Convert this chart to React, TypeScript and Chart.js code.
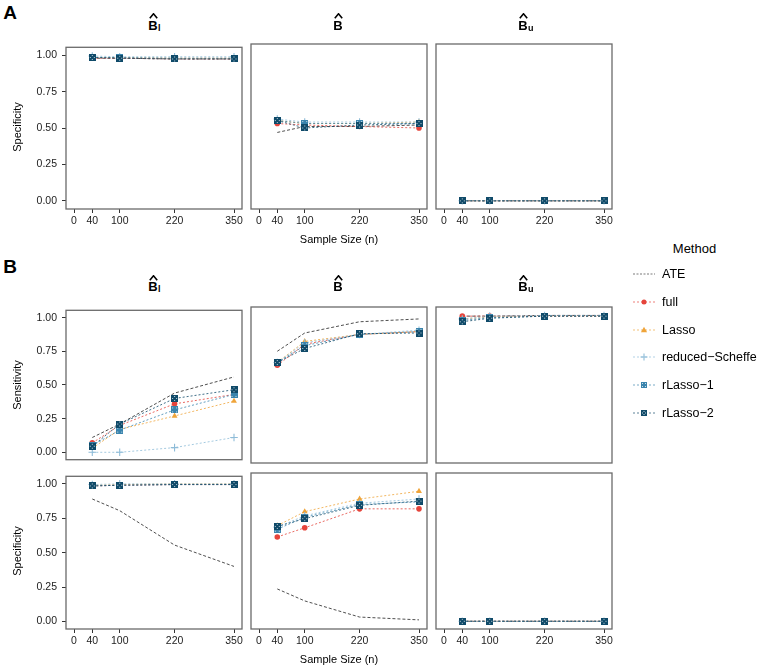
import React, { useEffect, useRef } from 'react';
import { Chart, registerables } from 'chart.js';

Chart.register(...registerables);

// ---------- data ----------
const SAMPLE_SIZES = [40, 100, 220, 350];
const X_TICKS = [0, 40, 100, 220, 350];
const Y_TICKS = [0, 0.25, 0.5, 0.75, 1];
const METHODS = ['ATE', 'full', 'Lasso', 'reduced\u2212Scheffe', 'rLasso\u22121', 'rLasso\u22122'];
const METHOD_COLORS = ['#3b3b3b', '#e5443b', '#efa43a', '#8ebcd8', '#3a84ad', '#0f4a69'];

// rows follow METHODS order: ATE, full, Lasso, reduced-Scheffe, rLasso-1, rLasso-2
const SPEC_A_LOWER = [
  [0.98, 0.98, 0.975, 0.975],
  [0.98, 0.98, 0.975, 0.975],
  [0.985, 0.985, 0.98, 0.98],
  [0.995, 0.99, 0.99, 0.99],
  [0.985, 0.985, 0.98, 0.98],
  [0.985, 0.98, 0.975, 0.975],
];
const SPEC_A_MID = [
  [0.46, 0.5, 0.5, 0.51],
  [0.52, 0.51, 0.5, 0.49],
  [0.54, 0.52, 0.52, 0.53],
  [0.55, 0.53, 0.53, 0.53],
  [0.54, 0.52, 0.52, 0.52],
  [0.54, 0.49, 0.51, 0.52],
];
const SPEC_A_UPPER = [
  [0, 0, 0, 0],
  [0, 0, 0, 0],
  [0, 0, 0, 0],
  [0, 0, 0, 0],
  [0, 0, 0, 0],
  [0, 0, 0, 0],
];
const SENS_B_LOWER = [
  [0.11, 0.21, 0.44, 0.56],
  [0.07, 0.2, 0.36, 0.43],
  [0.03, 0.17, 0.27, 0.38],
  [0.0, 0.0, 0.035, 0.11],
  [0.05, 0.165, 0.315, 0.43],
  [0.045, 0.21, 0.4, 0.465],
];
const SENS_B_MID = [
  [0.74, 0.87, 0.95, 0.97],
  [0.64, 0.79, 0.86, 0.88],
  [0.66, 0.81, 0.86, 0.88],
  [0.66, 0.8, 0.86, 0.89],
  [0.66, 0.78, 0.86, 0.88],
  [0.66, 0.76, 0.865, 0.87],
];
const SENS_B_UPPER = [
  [0.99, 0.99, 0.995, 0.995],
  [0.99, 0.99, 0.99, 0.99],
  [0.97, 0.985, 0.99, 0.99],
  [0.97, 0.99, 0.995, 0.995],
  [0.96, 0.98, 0.99, 0.99],
  [0.95, 0.975, 0.99, 0.99],
];
const SPEC_B_LOWER = [
  [0.89, 0.805, 0.555, 0.4],
  [0.985, 0.99, 0.995, 0.995],
  [0.99, 0.995, 1.0, 1.0],
  [0.995, 1.0, 1.0, 1.0],
  [0.985, 0.99, 0.995, 0.995],
  [0.985, 0.99, 0.995, 0.995],
];
const SPEC_B_MID = [
  [0.23, 0.145, 0.03, 0.01],
  [0.6, 0.665, 0.8, 0.8],
  [0.68, 0.78, 0.87, 0.925],
  [0.67, 0.75, 0.84, 0.87],
  [0.655, 0.74, 0.83, 0.85],
  [0.675, 0.73, 0.825, 0.855],
];
const SPEC_B_UPPER = [
  [0, 0, 0, 0],
  [0, 0, 0, 0],
  [0, 0, 0, 0],
  [0, 0, 0, 0],
  [0, 0, 0, 0],
  [0, 0, 0, 0],
];

// ---------- layout / style ----------
const FONT = '"Liberation Sans", Arial, Helvetica, sans-serif';
const COL_LEFT = [66, 251, 436];
const BOX_W = 176;
const FRAME_COLOR = '#6a6a6a';
const TEXT_COLOR = '#1c1c1c';

function makeSquareMarker(color: string, kind: 'plus' | 'cross') {
  const c = document.createElement('canvas');
  const s = 7;
  c.width = s;
  c.height = s;
  const ctx = c.getContext('2d')!;
  ctx.fillStyle = color;
  ctx.fillRect(0, 0, s, s);
  ctx.fillStyle = 'rgba(255,255,255,0.75)';
  if (kind === 'plus') {
    ctx.fillRect(1, 1, 1, 1);
    ctx.fillRect(5, 1, 1, 1);
    ctx.fillRect(1, 5, 1, 1);
    ctx.fillRect(5, 5, 1, 1);
  } else {
    ctx.fillRect(3, 1, 1, 1);
    ctx.fillRect(3, 5, 1, 1);
    ctx.fillRect(1, 3, 1, 1);
    ctx.fillRect(5, 3, 1, 1);
  }
  return c;
}

type PanelProps = {
  rows: number[][];
  left: number;
  top: number;
  h: number;
  showY: boolean;
  showX: boolean;
};

function Panel({ rows, left, top, h, showY, showX }: PanelProps) {
  const ref = useRef<HTMLCanvasElement | null>(null);
  const PL = 8, PR = 14, PT = 8, PB = 8;
  const YW = showY ? 48 : 0;
  const XH = showX ? 22 : 0;
  const W = PL + YW + BOX_W + PR;
  const H = PT + h + XH + PB;

  useEffect(() => {
    const canvas = ref.current;
    if (!canvas) return;
    const styles: any[] = [
      'circle',
      'circle',
      'triangle',
      'cross',
      makeSquareMarker(METHOD_COLORS[4], 'plus'),
      makeSquareMarker(METHOD_COLORS[5], 'cross'),
    ];
    const radii = [0, 2.8, 3.4, 3.8, 3.5, 3.5];
    const datasets = METHODS.map((m, i) => ({
      label: m,
      data: SAMPLE_SIZES.map((x, j) => ({ x, y: rows[i][j] })),
      borderColor: METHOD_COLORS[i],
      backgroundColor: METHOD_COLORS[i],
      borderWidth: i === 0 ? 0.9 : 0.8,
      borderDash: i === 0 ? [3, 2] : [2, 2],
      pointStyle: styles[i],
      pointRadius: radii[i],
      pointBorderWidth: i === 3 ? 1.1 : 0,
      pointBackgroundColor: METHOD_COLORS[i],
      pointBorderColor: METHOD_COLORS[i],
      tension: 0,
      fill: false,
    })).reverse();

    const frame = {
      id: 'frame',
      afterDatasetsDraw(chart: any) {
        const { ctx, chartArea: a } = chart;
        ctx.save();
        ctx.strokeStyle = FRAME_COLOR;
        ctx.lineWidth = 1.3;
        ctx.strokeRect(a.left, a.top, a.right - a.left, a.bottom - a.top);
        ctx.restore();
      },
    };

    const tickFont = { family: FONT, size: 10.5 };
    const chart = new Chart(canvas, {
      type: 'line',
      data: { datasets: datasets as any },
      options: {
        responsive: false,
        animation: false,
        events: [],
        layout: { padding: { left: PL, right: PR, top: PT, bottom: PB } },
        plugins: { legend: { display: false }, tooltip: { enabled: false } },
        scales: {
          x: {
            type: 'linear',
            min: -17.5,
            max: 367.5,
            display: showX,
            afterBuildTicks: (s: any) => {
              s.ticks = X_TICKS.map((v) => ({ value: v }));
            },
            afterFit: (s: any) => {
              s.height = XH;
            },
            ticks: {
              font: tickFont,
              color: TEXT_COLOR,
              padding: 2,
              maxRotation: 0,
              autoSkip: false,
              callback: (v: any) => String(v),
            },
            grid: { display: true, drawOnChartArea: false, drawTicks: true, tickLength: 4, color: '#333', lineWidth: 1 },
            border: { display: false },
          },
          y: {
            type: 'linear',
            min: -0.055,
            max: 1.055,
            display: showY,
            afterBuildTicks: (s: any) => {
              s.ticks = Y_TICKS.map((v) => ({ value: v }));
            },
            afterFit: (s: any) => {
              s.width = YW;
            },
            ticks: {
              font: tickFont,
              color: TEXT_COLOR,
              padding: 5,
              autoSkip: false,
              callback: (v: any) => Number(v).toFixed(2),
            },
            grid: { display: true, drawOnChartArea: false, drawTicks: true, tickLength: 4, color: '#333', lineWidth: 1 },
            border: { display: false },
          },
        },
      } as any,
      plugins: [frame],
    });
    return () => chart.destroy();
  }, []);

  return (
    <canvas
      ref={ref}
      width={W}
      height={H}
      style={{ position: 'absolute', left: left - PL - YW, top: top - PT, width: W, height: H }}
    />
  );
}

function Txt(props: {
  x: number;
  y: number;
  size: number;
  bold?: boolean;
  rotate?: number;
  left?: boolean;
  children: React.ReactNode;
}) {
  const { x, y, size, bold, rotate, left, children } = props;
  return (
    <div
      style={{
        position: 'absolute',
        left: x,
        top: y,
        transform: `translate(${left ? '0' : '-50%'},-50%)${rotate ? ` rotate(${rotate}deg)` : ''}`,
        fontFamily: FONT,
        fontSize: size,
        fontWeight: bold ? 'bold' : 'normal',
        lineHeight: 1,
        whiteSpace: 'nowrap',
        color: '#000',
      }}
    >
      {children}
    </div>
  );
}

function BHatTitle({ cx, cy, sub }: { cx: number; cy: number; sub: string }) {
  return (
    <>
      <svg
        width={9}
        height={6}
        style={{ position: 'absolute', left: cx - 4.5, top: cy - 11.5 }}
      >
        <polyline points="0.8,5.2 4.5,0.8 8.2,5.2" fill="none" stroke="#000" strokeWidth={1.6} />
      </svg>
      <Txt x={cx} y={cy} size={13} bold>
        B
      </Txt>
      {sub ? (
        <Txt x={cx + 5} y={cy + 3} size={9} bold left>
          {sub}
        </Txt>
      ) : null}
    </>
  );
}

function LegendKey({ i, y }: { i: number; y: number }) {
  const c = METHOD_COLORS[i];
  let marker: React.ReactNode = null;
  if (i === 1) marker = <circle cx={13} cy={7} r={2.5} fill={c} />;
  if (i === 2) marker = <polygon points="13,3.8 16.1,9.2 9.9,9.2" fill={c} />;
  if (i === 3)
    marker = (
      <g stroke={c} strokeWidth={1.1}>
        <line x1={9.5} y1={7} x2={16.5} y2={7} />
        <line x1={13} y1={3.5} x2={13} y2={10.5} />
      </g>
    );
  if (i === 4)
    marker = (
      <g>
        <rect x={10} y={4} width={6} height={6} fill={c} />
        <rect x={11} y={5} width={1} height={1} fill="#fff" opacity={0.75} />
        <rect x={14} y={5} width={1} height={1} fill="#fff" opacity={0.75} />
        <rect x={11} y={8} width={1} height={1} fill="#fff" opacity={0.75} />
        <rect x={14} y={8} width={1} height={1} fill="#fff" opacity={0.75} />
      </g>
    );
  if (i === 5)
    marker = (
      <g>
        <rect x={10} y={4} width={6} height={6} fill={c} />
        <rect x={12.5} y={5} width={1} height={1} fill="#fff" opacity={0.75} />
        <rect x={12.5} y={8} width={1} height={1} fill="#fff" opacity={0.75} />
        <rect x={11} y={6.5} width={1} height={1} fill="#fff" opacity={0.75} />
        <rect x={14} y={6.5} width={1} height={1} fill="#fff" opacity={0.75} />
      </g>
    );
  return (
    <svg width={26} height={14} style={{ position: 'absolute', left: 631, top: y - 7 }}>
      <line
        x1={2}
        y1={7}
        x2={24}
        y2={7}
        stroke={c}
        strokeWidth={0.8}
        strokeDasharray={i === 0 ? '2,1.5' : '2,2'}
        opacity={0.85}
      />
      {marker}
    </svg>
  );
}

const PANELS: { rows: number[][]; col: number; top: number; h: number; showX: boolean }[] = [
  { rows: SPEC_A_LOWER, col: 0, top: 44, h: 165, showX: true },
  { rows: SPEC_A_MID, col: 1, top: 44, h: 165, showX: true },
  { rows: SPEC_A_UPPER, col: 2, top: 44, h: 165, showX: true },
  { rows: SENS_B_LOWER, col: 0, top: 307, h: 156, showX: false },
  { rows: SENS_B_MID, col: 1, top: 307, h: 156, showX: false },
  { rows: SENS_B_UPPER, col: 2, top: 307, h: 156, showX: false },
  { rows: SPEC_B_LOWER, col: 0, top: 473, h: 156, showX: true },
  { rows: SPEC_B_MID, col: 1, top: 473, h: 156, showX: true },
  { rows: SPEC_B_UPPER, col: 2, top: 473, h: 156, showX: true },
];

const SUBS = ['l', '', 'u'];

export default function App() {
  return (
    <div
      style={{
        position: 'absolute',
        left: 0,
        top: 0,
        width: 760,
        height: 667,
        background: '#fff',
        overflow: 'hidden',
      }}
    >
      {PANELS.map((p, k) => (
        <Panel
          key={k}
          rows={p.rows}
          left={COL_LEFT[p.col]}
          top={p.top}
          h={p.h}
          showY={p.col === 0}
          showX={p.showX}
        />
      ))}

      <Txt x={10} y={11.5} size={19} bold>
        A
      </Txt>
      <Txt x={10} y={266} size={19} bold>
        B
      </Txt>

      {COL_LEFT.map((l, i) => (
        <BHatTitle key={'a' + i} cx={l + 87} cy={24.5} sub={SUBS[i]} />
      ))}
      {COL_LEFT.map((l, i) => (
        <BHatTitle key={'b' + i} cx={l + 87} cy={286} sub={SUBS[i]} />
      ))}

      <Txt x={17} y={126.5} size={11} rotate={-90}>
        Specificity
      </Txt>
      <Txt x={17} y={385} size={11} rotate={-90}>
        Sensitivity
      </Txt>
      <Txt x={17} y={551} size={11} rotate={-90}>
        Specificity
      </Txt>

      <Txt x={339} y={239} size={11}>
        Sample Size (n)
      </Txt>
      <Txt x={339} y={659} size={11}>
        Sample Size (n)
      </Txt>

      <Txt x={694.5} y={248} size={13}>
        Method
      </Txt>
      {METHODS.map((m, i) => {
        const y = 274 + i * 27.8;
        return (
          <React.Fragment key={m}>
            <LegendKey i={i} y={y} />
            <Txt x={662} y={y} size={12.5} left>
              {m}
            </Txt>
          </React.Fragment>
        );
      })}
    </div>
  );
}
